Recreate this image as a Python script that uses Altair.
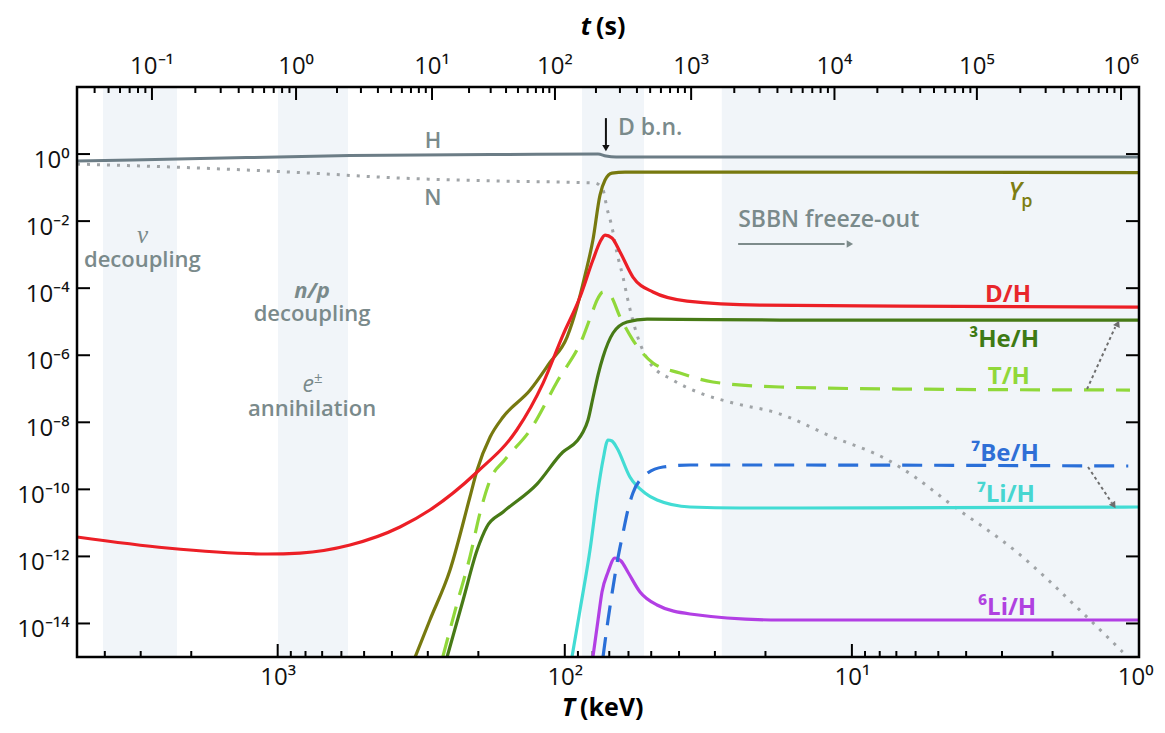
import altair as alt
import pandas as pd
import numpy as np

# ---------------- curves (T in keV, abundance) ----------------
H_T = [5000, 1865, 560, 168, 76.6, 71.9, 66.3, 1]
H_Y = [0.618, 0.734, 0.902, 0.966, 1.0, 0.872, 0.814, 0.814]

N_T = [5000, 1865, 836, 375, 168, 78.5, 73.6, 71.3, 68.5, 65.8, 62.7, 60.3, 56.0, 50.5,
       42.0, 33.8, 25.9, 18.2, 11.9, 7.49, 6.03, 4.63, 2.64, 1.61, 1.14]
N_Y = [0.503, 0.382, 0.281, 0.192, 0.157, 0.137, 0.0844, 0.0245, 6.65e-3, 1.12e-3, 2.15e-4,
       4.43e-5, 4.00e-6, 5.86e-7, 1.82e-7, 7.46e-8, 3.76e-8, 1.89e-8, 3.90e-9, 7.50e-10,
       2.33e-10, 4.19e-11, 1.26e-12, 2.53e-14, 1.41e-15]

YP_T = [332, 295, 251, 214, 202, 182, 164, 132, 113, 98.2, 90.7, 85.0, 79.8, 75.4, 72.4, 68.5, 61.7, 1]
YP_Y = [1.0e-15, 1.27e-14, 3.94e-13, 5.91e-11, 3.77e-10, 3.64e-9, 1.44e-8, 9.17e-8, 5.86e-7,
        3.49e-6, 2.74e-5, 2.46e-4, 2.73e-3, 0.0599, 0.168, 0.271, 0.290, 0.281]

DH_T = [5000, 2430, 1089, 836, 560, 375, 295, 202, 147, 119, 101.5, 88.5, 79.8, 75.4,
        72.4, 68.5, 64.2, 57.9, 49.3, 37.5, 20.9, 6.80, 1]
DH_Y = [3.79e-12, 1.78e-12, 1.18e-12, 1.26e-12, 2.19e-12, 7.54e-12, 2.42e-11,
        3.29e-10, 5.89e-9, 1.48e-7, 4.00e-6, 5.44e-5, 6.90e-4, 2.38e-3, 3.84e-3, 3.13e-3,
        1.20e-3, 2.15e-4, 7.67e-5, 4.13e-5, 3.14e-5, 2.93e-5, 2.74e-5]

TH_T = [266, 237, 214, 197, 182, 162, 132, 106.5, 86.4, 80.4, 77.2, 73.6, 69.6, 64.2, 57.9,
        49.3, 39.7, 30.5, 17.8, 6.80, 1.075]
TH_Y = [1.0e-15, 4.09e-14, 9.60e-13, 2.11e-11, 1.90e-10, 7.50e-10, 5.89e-9, 1.59e-7, 3.49e-6,
        1.81e-5, 4.43e-5, 7.67e-5, 6.24e-5, 1.38e-5, 2.84e-6, 5.86e-7, 2.95e-7, 1.59e-7,
        1.13e-7, 9.82e-8, 9.17e-8]

HE3_T = [257, 226, 202, 187, 164, 125, 101.5, 90.7, 86.4, 83.0, 79.8, 76.6, 73.6, 67.9, 60.7, 51.7, 17.8, 1]
HE3_Y = [1.0e-15, 5.02e-14, 1.55e-12, 7.54e-12, 2.11e-11, 1.44e-10, 1.30e-9, 2.76e-9, 5.13e-9,
         1.17e-8, 5.30e-8, 2.57e-7, 8.84e-7, 4.60e-6, 9.78e-6, 1.20e-5, 1.12e-5, 1.12e-5]

LI7_T = [94.4, 88.5, 81.7, 76.6, 73.6, 70.7, 68.5, 65.8, 59.3, 52.6, 47.7, 36.6, 24.5, 15.2, 1]
LI7_Y = [1.0e-15, 2.53e-14, 1.55e-12, 9.56e-11, 7.50e-10, 2.96e-9, 2.76e-9, 1.71e-9, 2.33e-10,
         7.78e-11, 4.81e-11, 2.98e-11, 2.78e-11, 2.78e-11, 2.98e-11]

BE7_T = [73.6, 70.7, 67.9, 65.3, 62.7, 60.3, 57.9, 53.4, 45.5, 36.6, 17.8, 1.09]
BE7_Y = [1.0e-15, 1.27e-14, 1.23e-13, 8.97e-13, 4.99e-12, 2.42e-11, 7.78e-11, 2.33e-10,
         4.64e-10, 5.32e-10, 5.32e-10, 4.97e-10]

LI6_T = [79.8, 76.6, 74.2, 70.7, 66.9, 63.7, 60.3, 54.7, 47.7, 36.6, 17.8, 1]
LI6_Y = [1.0e-15, 1.27e-14, 8.70e-14, 3.43e-13, 8.97e-13, 7.30e-13, 3.43e-13, 8.70e-14,
         3.56e-14, 1.92e-14, 1.27e-14, 1.27e-14]

# shaded epochs (T range, keV)
BAND_T_HI = [4058, 997, 87.1, 28.4]
BAND_T_LO = [2243, 569, 53.0, 1]

# axes
X_TICKS = [1000, 100, 10, 1]
X_TICK_EXP = [3, 2, 1, 0]
X_TICK_LABELS = ["10³", "10²", "10¹", "10⁰"]
Y_TICKS = [1, 1e-2, 1e-4, 1e-6, 1e-8, 1e-10, 1e-12, 1e-14]
Y_TICK_EXP = [0, -2, -4, -6, -8, -10, -12, -14]
Y_TICK_LABELS = ["10⁰", "10⁻²", "10⁻⁴", "10⁻⁶", "10⁻⁸", "10⁻¹⁰", "10⁻¹²", "10⁻¹⁴"]
TIME_TICKS_S = [0.1, 1, 10, 100, 1e3, 1e4, 1e5, 1e6]
TIME_TICK_T = [2741, 863, 290, 108.2, 36.3, 11.5, 3.67, 1.155]
TIME_TICK_LABELS = ["10⁻¹", "10⁰", "10¹", "10²", "10³", "10⁴", "10⁵", "10⁶"]

FONT = "Open Sans"
GRAY = "#7a8a8b"
W, HGT = 1062, 570
T_MIN, T_MAX = 1, 5000


def label_expr(exps, labels):
    parts = [f"round(log(datum.value)/LN10) == {e} ? '{l}'" for e, l in zip(exps, labels)]
    return " : ".join(parts) + " : ''"


xscale = alt.Scale(type="log", domain=[T_MIN, T_MAX], reverse=True)
yscale = alt.Scale(type="log", domain=[1e-15, 100])
xaxis = alt.Axis(values=X_TICKS, labelExpr=label_expr(X_TICK_EXP, X_TICK_LABELS), ticks=False,
                 tickSize=0, domain=False, grid=False, labelFont=FONT, labelFontSize=24,
                 labelColor="#111111", labelPadding=8, labelFlush=True, labelFlushOffset=14,
                 labelOverlap=False, title=None)
yaxis = alt.Axis(values=Y_TICKS, labelExpr=label_expr(Y_TICK_EXP, Y_TICK_LABELS), ticks=False,
                 tickSize=0, domain=False, grid=False, labelFont=FONT, labelFontSize=24,
                 labelColor="#111111", labelPadding=8, labelOffset=6, labelOverlap=False,
                 labelFlush=False, title=None)
X = alt.X("T:Q", scale=xscale, axis=xaxis)
Y = alt.Y("Y:Q", scale=yscale, axis=yaxis)

# minor ticks of the time axis, placed along the t(T) relation given by the major ticks
lt = np.log10(TIME_TICKS_S)
lT = np.log10(TIME_TICK_T)


def t_to_T(t):
    x = np.log10(t)
    if x < lt[0]:
        s = (lT[1] - lT[0]) / (lt[1] - lt[0])
        return 10 ** (lT[0] + s * (x - lt[0]))
    if x > lt[-1]:
        s = (lT[-1] - lT[-2]) / (lt[-1] - lt[-2])
        return 10 ** (lT[-1] + s * (x - lt[-1]))
    return 10 ** np.interp(x, lt, lT)


TIME_MINOR_T = [t_to_T(k * 10.0 ** n) for n in range(-2, 7) for k in range(2, 10)]
TIME_MINOR_T = [v for v in TIME_MINOR_T if T_MIN < v < T_MAX]
X_MINOR = [k * 10 ** n for n in range(0, 4) for k in range(2, 10) if k * 10 ** n < T_MAX]


def line_layer(T, Yv, color, width=3.2, dash=None, cap="butt"):
    df = pd.DataFrame({"T": T, "Y": Yv, "i": list(range(len(T)))})
    kw = dict(color=color, strokeWidth=width, clip=True, interpolate="monotone", strokeCap=cap)
    if dash:
        kw["strokeDash"] = dash
    return alt.Chart(df).mark_line(**kw).encode(x=X, y=Y, order="i:Q")


def text_layer(texts, Ts, Ys, color, size, weight="normal", style="normal", font=FONT,
               align="center", baseline="alphabetic", dx=0, dy=0):
    df = pd.DataFrame({"label": texts, "T": Ts, "Y": Ys})
    return alt.Chart(df).mark_text(color=color, fontSize=size, fontWeight=weight,
                                   fontStyle=style, font=font, align=align, dx=dx, dy=dy,
                                   baseline=baseline).encode(x=X, y=Y, text="label:N")


def fixed_text(txt, px, py, size, weight="bold", style="normal", align="center"):
    return alt.Chart(pd.DataFrame({"a": [0]})).mark_text(
        text=txt, fontSize=size, fontWeight=weight, fontStyle=style, font=FONT,
        align=align, baseline="alphabetic", color="black"
    ).encode(x=alt.value(px), y=alt.value(py))


layers = []

# background epochs
layers.append(alt.Chart(pd.DataFrame({"T": BAND_T_HI, "T2": BAND_T_LO}))
              .mark_rect(color="#f1f5f9").encode(x=X, x2="T2:Q", y=alt.value(0), y2=alt.value(HGT)))

# ticks (drawn inward)
layers.append(alt.Chart(pd.DataFrame({"T": X_TICKS})).mark_rule(color="black", strokeWidth=2)
              .encode(x=X, y=alt.value(HGT), y2=alt.value(HGT - 13)))
layers.append(alt.Chart(pd.DataFrame({"T": X_MINOR})).mark_rule(color="black", strokeWidth=2)
              .encode(x=X, y=alt.value(HGT), y2=alt.value(HGT - 6)))
layers.append(alt.Chart(pd.DataFrame({"T": TIME_TICK_T})).mark_rule(color="black", strokeWidth=2)
              .encode(x=X, y=alt.value(0), y2=alt.value(13)))
layers.append(alt.Chart(pd.DataFrame({"T": TIME_MINOR_T})).mark_rule(color="black", strokeWidth=2)
              .encode(x=X, y=alt.value(0), y2=alt.value(6)))
layers.append(alt.Chart(pd.DataFrame({"Y": Y_TICKS})).mark_rule(color="black", strokeWidth=2)
              .encode(y=Y, x=alt.value(0), x2=alt.value(13)))
layers.append(alt.Chart(pd.DataFrame({"Y": Y_TICKS})).mark_rule(color="black", strokeWidth=2)
              .encode(y=Y, x=alt.value(W), x2=alt.value(W - 13)))

# top axis labels (time)
layers.append(alt.Chart(pd.DataFrame({"T": TIME_TICK_T, "label": TIME_TICK_LABELS}))
              .mark_text(fontSize=24, font=FONT, color="#111111", baseline="alphabetic")
              .encode(x=X, y=alt.value(-13), text="label:N"))

# curves
layers.append(line_layer(N_T, N_Y, "#a0a4a7", width=3, dash=[3, 7]))
layers.append(line_layer(H_T, H_Y, "#6c7d86", width=3))
layers.append(line_layer(YP_T, YP_Y, "#77790f"))
layers.append(line_layer(HE3_T, HE3_Y, "#477a16"))
layers.append(line_layer(TH_T, TH_Y, "#90d83a", dash=[20, 12]))
layers.append(line_layer(DH_T, DH_Y, "#ec1f26"))
layers.append(line_layer(LI7_T, LI7_Y, "#42dcd4"))
layers.append(line_layer(LI6_T, LI6_Y, "#b23fe4"))
layers.append(line_layer(BE7_T, BE7_Y, "#2a6fd8", dash=[20, 12]))

# arrows
ARROW_T = [71.9, 24.9, 1.517, 1.505]
ARROW_T2 = [71.9, 10.6, 1.21, 1.245]
ARROW_Y = [11.8, 2.07e-3, 9.82e-8, 4.64e-10]
ARROW_Y2 = [1.73, 2.07e-3, 6.9e-6, 4.0e-11]
ARROW_COLOR = ["#111111", "#7d8b8b", "#6e6e6e", "#6e6e6e"]
ARROW_DASH = [None, None, [3, 3], [3, 3]]
HEAD_T = [71.9, 10.25, 1.19, 1.23]
HEAD_Y = [1.62, 2.07e-3, 8.2e-6, 3.5e-11]
HEAD_ANGLE = [180, 90, 25, 147]

for i in range(4):
    df = pd.DataFrame({"T": [ARROW_T[i]], "T2": [ARROW_T2[i]], "Y": [ARROW_Y[i]], "Y2": [ARROW_Y2[i]]})
    kw = dict(color=ARROW_COLOR[i], strokeWidth=2)
    if ARROW_DASH[i]:
        kw["strokeDash"] = ARROW_DASH[i]
    layers.append(alt.Chart(df).mark_rule(**kw).encode(x=X, x2="T2:Q", y=Y, y2="Y2:Q"))
    layers.append(alt.Chart(pd.DataFrame({"T": [HEAD_T[i]], "Y": [HEAD_Y[i]]}))
                  .mark_point(shape="triangle", filled=True, opacity=1, color=ARROW_COLOR[i], size=55)
                  .encode(x=X, y=Y, angle=alt.value(HEAD_ANGLE[i])))

# annotations
layers.append(text_layer(["H", "N"], [288, 288], [1.51, 0.0301], GRAY, 22, weight=600))
layers.append(text_layer(["D b.n.", "SBBN freeze-out"], [65.3, 24.9], [3.69, 6.65e-3], GRAY, 23,
                         weight=600, align="left"))
layers.append(text_layer(["ν"], [2955], [2.22e-3], GRAY, 25, style="italic", font="Liberation Serif"))
layers.append(text_layer(["decoupling", "decoupling", "annihilation"], [2960, 759, 759],
                         [4.27e-4, 1.05e-5, 1.55e-8], GRAY, 22, weight=600))
layers.append(text_layer(["n/p"], [759], [5.1e-5], GRAY, 22, weight="bold", style="italic"))
layers.append(text_layer(["e"], [759], [8.0e-8], GRAY, 23, style="italic", align="right", dx=2))
layers.append(text_layer(["±"], [759], [8.0e-8], GRAY, 15, align="left", dx=2, dy=-9))

SPECIES_LABELS = ["D/H", "³He/H", "T/H", "⁷Be/H", "⁷Li/H", "⁶Li/H"]
SPECIES_T = [2.86, 2.95, 2.84, 2.93, 2.91, 2.88]
SPECIES_Y = [3.86e-5, 1.76e-6, 1.38e-7, 7.00e-10, 4.19e-11, 1.79e-14]
SPECIES_COLOR = ["#e8262b", "#3e7a14", "#90d83a", "#2f6fd6", "#47d6d0", "#b041e0"]
for lab, t, yv, c in zip(SPECIES_LABELS, SPECIES_T, SPECIES_Y, SPECIES_COLOR):
    layers.append(text_layer([lab], [t], [yv], c, 24, weight="bold"))
layers.append(text_layer(["Y"], [2.70], [0.0425], "#7d7d12", 25, weight=600, style="italic"))
layers.append(text_layer(["p"], [2.46], [0.0263], "#7d7d12", 18, weight=600))

# axis titles
layers.append(fixed_text("t", 514, -52, 25, style="italic", align="right"))
layers.append(fixed_text("(s)", 519, -52, 25, align="left"))
layers.append(fixed_text("T", 498, 629, 25, style="italic", align="right"))
layers.append(fixed_text("(keV)", 503, 629, 25, align="left"))

# frame
layers.append(alt.Chart(pd.DataFrame({"a": [0]})).mark_rect(fillOpacity=0, stroke="black", strokeWidth=2.5)
              .encode(x=alt.value(0), x2=alt.value(W), y=alt.value(0), y2=alt.value(HGT)))

chart = alt.layer(*layers).properties(
    width=W, height=HGT,
    padding={"left": 69, "top": 79, "right": 18, "bottom": 66},
    autosize=alt.AutoSizeParams(type="none"),
).configure_view(strokeWidth=0)

chart.save("out.html", embed_options={"renderer": "svg", "actions": False})
